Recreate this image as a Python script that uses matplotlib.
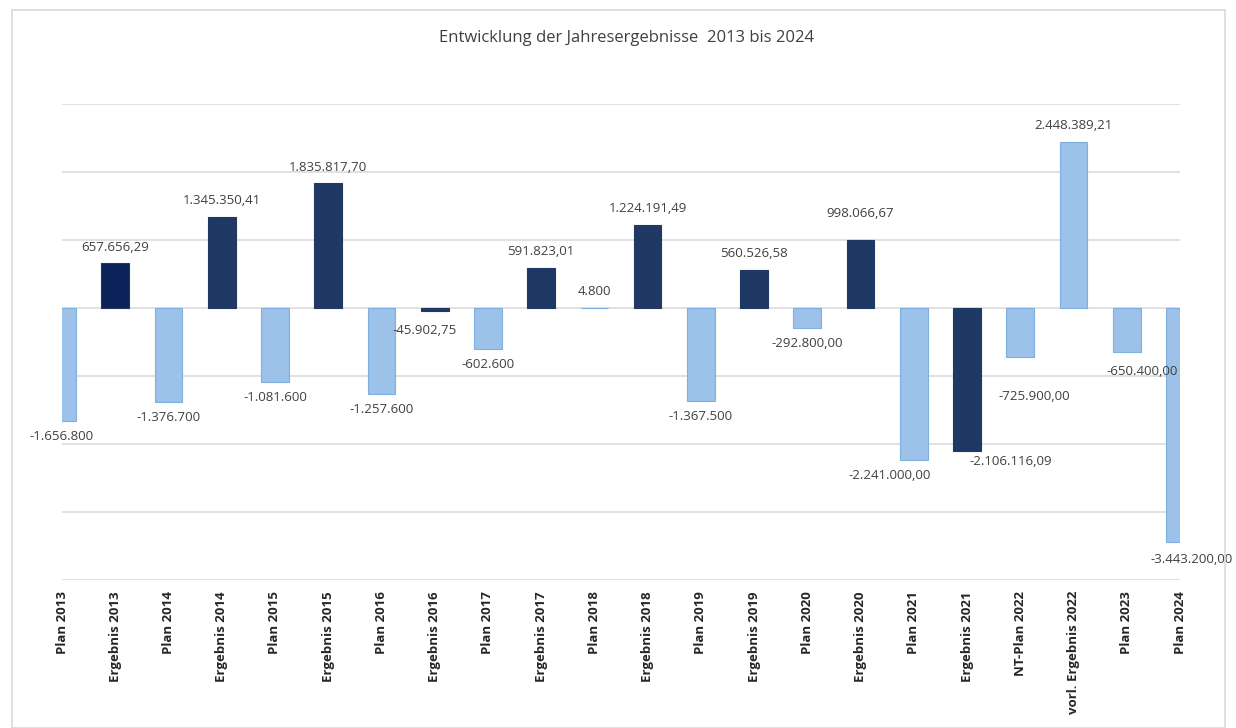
import matplotlib
matplotlib.use('Agg')
import matplotlib.pyplot as plt
from matplotlib.patches import Rectangle

# Daten
kategorien = ['Plan 2013', 'Ergebnis 2013', 'Plan 2014', 'Ergebnis 2014', 'Plan 2015',
              'Ergebnis 2015', 'Plan 2016', 'Ergebnis 2016', 'Plan 2017', 'Ergebnis 2017',
              'Plan 2018', 'Ergebnis 2018', 'Plan 2019', 'Ergebnis 2019', 'Plan 2020',
              'Ergebnis 2020', 'Plan 2021', 'Ergebnis 2021', 'NT-Plan 2022',
              'vorl. Ergebnis 2022', 'Plan 2023', 'Plan 2024']
werte = [-1656800, 657656.29, -1376700, 1345350.41, -1081600, 1835817.70, -1257600,
         -45902.75, -602600, 591823.01, 4800, 1224191.49, -1367500, 560526.58,
         -292800.00, 998066.67, -2241000.00, -2106116.09, -725900.00, 2448389.21,
         -650400.00, -3443200.00]
beschriftung = ['-1.656.800', '657.656,29', '-1.376.700', '1.345.350,41', '-1.081.600',
                '1.835.817,70', '-1.257.600', '-45.902,75', '-602.600', '591.823,01',
                '4.800', '1.224.191,49', '-1.367.500', '560.526,58', '-292.800,00',
                '998.066,67', '-2.241.000,00', '-2.106.116,09', '-725.900,00',
                '2.448.389,21', '-650.400,00', '-3.443.200,00']
# Ist-Werte (dunkel) vs. Plan-Werte (hell)
ist = [False, True, False, True, False, True, False, True, False, True, False, True,
       False, True, False, True, False, True, False, False, False, False]

hell = '#9CC2EA'
hell_rand = '#7FAEE0'
dunkel = '#1F3864'

# Verschiebung einzelner Beschriftungen (Pixel, dx nach rechts, dy nach unten)
label_shift = {7: (-10, 3), 15: (0, -11), 16: (-24, -1), 17: (44, -6),
               18: (14, 23), 20: (15, 3), 21: (12, 1)}

plt.rcParams['font.family'] = ['Open Sans', 'DejaVu Sans']

fig = plt.figure(figsize=(12.36, 7.28), dpi=100)
fig.patches.append(Rectangle((12 / 1236, 0), 1213 / 1236, 718 / 728, transform=fig.transFigure,
                             fill=False, edgecolor='#D9D9D9', lw=1.2))
ax = fig.add_axes([62 / 1236, 1 - 580 / 728, 1118 / 1236, 476 / 728])

x = list(range(len(kategorien)))
farben = [dunkel if i else hell for i in ist]
rand = [dunkel if i else hell_rand for i in ist]
farben[1] = '#0B2259'
ax.bar(x, werte, width=0.52, color=farben, edgecolor=rand, linewidth=0.8, zorder=3)

ax.set_xlim(0, len(kategorien) - 1)
ax.set_ylim(-4000000, 3000000)
ax.set_yticks(range(-4000000, 3000001, 1000000))
ax.yaxis.grid(True, color='#D9D9D9', lw=1.1, zorder=0)
ax.tick_params(axis='y', length=0, labelleft=False)
ax.tick_params(axis='x', length=0, pad=8)
for s in ax.spines.values():
    s.set_visible(False)

ax.set_xticks(x)
ax.set_xticklabels(kategorien, rotation=90, fontsize=9.5, fontweight='bold', color='#262626')

for i, (w, t) in enumerate(zip(werte, beschriftung)):
    dx, dy = label_shift.get(i, (0, 0))
    basis = 16 if w >= 0 else -16
    ax.annotate(t, (i, w), xytext=(dx * 0.72, (basis - dy) * 0.72), textcoords='offset points',
                ha='center', va='center', fontsize=9.5, color='#404040', clip_on=False,
                annotation_clip=False)

fig.text(627 / 1236, 1 - 38 / 728, 'Entwicklung der Jahresergebnisse  2013 bis 2024',
         ha='center', va='center', fontsize=12, color='#404040')

fig.savefig('out.png', dpi=100)
